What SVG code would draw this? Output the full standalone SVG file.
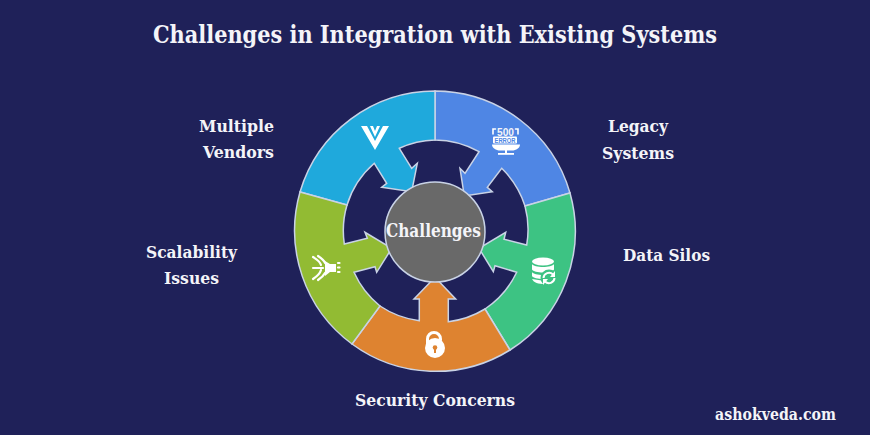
<svg xmlns="http://www.w3.org/2000/svg" width="870" height="435" viewBox="0 0 870 435">
<style>
.seg{stroke:#c9d3e6;stroke-width:1.5;stroke-linejoin:miter}
text{font-family:"DejaVu Serif","Liberation Serif",serif;font-weight:bold;fill:#f4f4f8;font-size:17px}
.ic{fill:#fff;stroke:none}
.il{fill:none;stroke:#fff;stroke-linecap:round}
</style>
<rect width="870" height="435" fill="#1f2159"/>
<text id="title" x="153" y="43" style="font-size:24px" textLength="564" lengthAdjust="spacingAndGlyphs">Challenges in Integration with Existing Systems</text>
<g id="connectors"></g>
<g id="legacy">
<path class="seg" fill="#4f86e4" d="M435 91A141 141 0 0 1 570 193L525 206A91 91 0 0 0 501.7 168.3L487.3 187.3L492.3 191.7L464.3 196L460 168.3L465 173.3L479 151.7A91 91 0 0 0 435 140Z"/>
<g class="ic">
<text x="497" y="135.500" style="font-size:10px;font-family:'Liberation Sans',sans-serif" textLength="17" lengthAdjust="spacingAndGlyphs">500</text>
<rect x="493" y="136.500" width="24" height="7" rx="1"/>
<text x="494.500" y="142.500" style="font-size:6.500px;font-family:'Liberation Sans',sans-serif;fill:#4f86e4" textLength="21" lengthAdjust="spacingAndGlyphs">ERROR</text>
<path d="M492 144.500H520C520 148 516 150.500 512 150.500H500C496 150.500 492 148 492 144.500Z"/>
<rect x="505" y="150" width="2" height="3.500"/><rect x="498" y="153" width="16" height="1.800"/>
</g>
<path class="il" stroke-width="1.600" d="M493 134V129H495.500M518 134V129H515.500"/>
</g>
<g id="vendors">
<path class="seg" fill="#1fa9dc" d="M435 91A141 141 0 0 0 300 192L347 205A91 91 0 0 1 374.300 163.300L386.700 183.300L381.700 187.300L411.700 191.700L417.300 163.300L411.700 168.300L399.300 148.300A91 91 0 0 1 435 140Z"/>
<path class="ic" d="M361 126H367L375 141L383 126H389L375 150Z"/>
<path class="ic" d="M370 126H373L375 131L377 126H380L375 137Z" />
</g>
<g id="silos">
<path class="seg" fill="#3dc383" d="M570 193A141 141 0 0 1 510 350L485 309A91 91 0 0 0 516.700 272.300L495 265.700L493.300 271.700L479 248.300L505.700 232.300L504 239.300L526.700 245A91 91 0 0 0 525 206Z"/>
<g class="ic">
<ellipse cx="543" cy="261.500" rx="11" ry="4"/>
<path d="M532 264C534 268 552 268 554 264V269.500C552 273.500 534 273.500 532 269.500Z"/>
<path d="M532 272C534 276 552 276 554 272V276C552 280 534 280 532 276Z"/>
<path d="M532 279C534 283 538 284 545 284V281Z"/>
</g>
<circle cx="549" cy="278" r="8.500" fill="#3dc383"/>
<path d="M543.500 278A5.500 5.500 0 0 1 553 274.500M554.500 278A5.500 5.500 0 0 1 545 281.500" fill="none" stroke="#fff" stroke-width="2"/>
<path class="ic" d="M555 271V277H550ZM543 285V279H548Z"/>
</g>
<g id="security">
<path class="seg" fill="#de8330" d="M352 344A141 141 0 0 0 510 350L485 309A91 91 0 0 1 448.300 321.700L448.300 299L455.700 299L435 277.300L414 299L419.300 299L419.300 320.700A91 91 0 0 1 380 306Z"/>
<path d="M427.500 344V339A6.500 6.500 0 0 1 440.500 339V340" fill="none" stroke="#fff" stroke-width="3" stroke-linecap="round"/>
<circle class="ic" cx="435" cy="348" r="10"/>
<circle cx="435" cy="347.500" r="2.300" fill="#de8330"/>
<rect x="434" y="347.500" width="2" height="5.500" fill="#de8330"/>
</g>
<g id="scalability">
<path class="seg" fill="#92bb33" d="M300 192A141 141 0 0 0 352 344L380 306A91 91 0 0 1 354 272.300L375 266.700L376.700 272.300L391.700 248.300L365 232.300L367.300 238.300L344.300 244A91 91 0 0 1 347 205Z"/>
<path class="ic" d="M325 261L330 264H336V272H330L325 276Z"/>
<g class="il" stroke-width="2.200">
<path d="M313 257C316 259 320 261 321 265"/>
<path d="M318 256C321 258 324 260 325 263"/>
<path d="M313 279C316 277 320 274 321 270"/>
<path d="M318 280C321 278 324 275 325 273"/>
<path d="M313 268H323"/>
<path d="M338 263H339.500M338 267.500H339.500M338 272H339.500"/>
</g>
</g>
<g id="center">
<circle cx="435" cy="232" r="50" fill="#696969" stroke="#c9d3e6" stroke-width="1.500"/>
<text x="386" y="237" style="font-size:18px" textLength="95" lengthAdjust="spacingAndGlyphs">Challenges</text>
</g>
<text x="199" y="132" textLength="75" lengthAdjust="spacingAndGlyphs">Multiple</text>
<text x="203" y="158" textLength="71" lengthAdjust="spacingAndGlyphs">Vendors</text>
<text x="608" y="132" textLength="60" lengthAdjust="spacingAndGlyphs">Legacy</text>
<text x="602" y="159" textLength="72" lengthAdjust="spacingAndGlyphs">Systems</text>
<text x="623" y="261" textLength="87" lengthAdjust="spacingAndGlyphs">Data Silos</text>
<text x="146" y="258" textLength="91" lengthAdjust="spacingAndGlyphs">Scalability</text>
<text x="164" y="284" textLength="55" lengthAdjust="spacingAndGlyphs">Issues</text>
<text x="355" y="406" textLength="160" lengthAdjust="spacingAndGlyphs">Security Concerns</text>
<text x="715" y="420" textLength="121" lengthAdjust="spacingAndGlyphs">ashokveda.com</text>
</svg>
